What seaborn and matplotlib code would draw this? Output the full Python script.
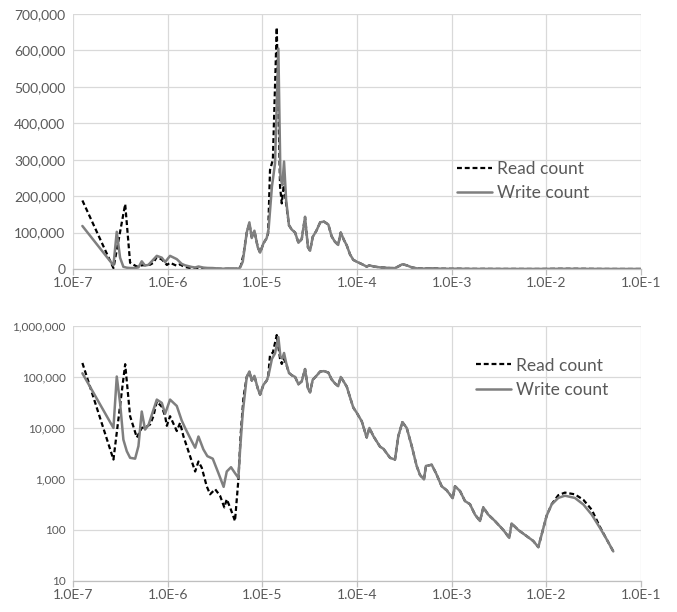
import numpy as np
import pandas as pd
import matplotlib
matplotlib.use('Agg')
import matplotlib.pyplot as plt
import matplotlib.ticker as mticker
import seaborn as sns

# latency as log10(seconds), counts as plotted
read_head_logx = [-6.902, -6.574, -6.45, -6.398, -6.327, -6.275, -6.222, -6.187, -6.152, -6.116,
                  -6.063, -6.028, -6.01, -5.976, -5.905, -5.87, -5.835, -5.782, -5.711, -5.676,
                  -5.641, -5.589, -5.553, -5.5, -5.448, -5.403, -5.377, -5.342, -5.29, -5.254,
                  -5.229, -5.2, -5.166, -5.138, -5.113, -5.085, -5.05, -5.025, -4.99, -4.955,
                  -4.94, -4.92, -4.89, -4.849, -4.814, -4.796, -4.775, -4.75]
read_head_counts = [188000, 2400, 178000, 17000, 6500, 10000, 10700, 11700, 17000, 33000,
                    26000, 17000, 11000, 17000, 8700, 12600, 6900, 3500, 1400, 2200,
                    1660, 720, 500, 630, 470, 277, 400, 277, 150, 980,
                    8000, 40000, 100000, 125000, 85000, 105000, 60000, 45000, 70000, 85000,
                    98000, 272000, 300000, 663000, 226000, 180000, 230000, 180000]

write_head_logx = [-6.902, -6.574, -6.539, -6.504, -6.469, -6.433, -6.398, -6.345, -6.31, -6.275,
                   -6.24, -6.204, -6.116, -6.063, -6.028, -5.976, -5.905, -5.853, -5.817, -5.747,
                   -5.711, -5.676, -5.624, -5.582, -5.525, -5.465, -5.41, -5.377, -5.332, -5.29,
                   -5.254, -5.236, -5.208, -5.166, -5.138, -5.113, -5.085, -5.05, -5.025, -4.99,
                   -4.955, -4.935, -4.9, -4.867, -4.832, -4.81, -4.79, -4.772, -4.75]
write_head_counts = [118000, 10000, 102000, 31000, 5900, 3500, 2600, 2500, 4400, 21000,
                     9300, 11400, 36000, 31000, 19000, 36000, 27000, 14000, 10000, 5500,
                     4100, 6800, 3800, 2800, 2500, 1300, 700, 1400, 1700, 1300,
                     1050, 3800, 20000, 100000, 128000, 85000, 105000, 60000, 45000, 70000,
                     85000, 110000, 226000, 290000, 605000, 250000, 230000, 295000, 190000]

# both series coincide here
tail_logx = [-4.72, -4.69, -4.655, -4.62, -4.585, -4.55, -4.52, -4.497, -4.469, -4.43,
             -4.39, -4.35, -4.304, -4.27, -4.235, -4.2, -4.173, -4.14, -4.11, -4.075,
             -4.04, -4.005, -3.951, -3.899, -3.87, -3.828, -3.758, -3.722, -3.652, -3.6,
             -3.565, -3.522, -3.476, -3.423, -3.371, -3.336, -3.294, -3.273, -3.212, -3.167,
             -3.107, -3.054, -2.99, -2.966, -2.913, -2.861, -2.808, -2.755, -2.702, -2.667,
             -2.615, -2.544, -2.456, -2.393, -2.368, -2.298, -2.21, -2.14, -2.086]
tail_counts = [120000, 108000, 100000, 72000, 82000, 143000, 60000, 50000, 88000, 105000,
               128000, 130000, 122000, 90000, 75000, 66000, 100000, 80000, 65000, 40000,
               25000, 20000, 13500, 6500, 10000, 6900, 4300, 3900, 2600, 2400,
               6900, 13000, 10000, 4400, 1800, 1200, 980, 1800, 1900, 1300,
               720, 600, 420, 720, 580, 370, 320, 200, 150, 277,
               200, 150, 100, 70, 134, 100, 76, 61, 46]

hump_logx = [-1.998, -1.945, -1.875, -1.805, -1.7, -1.61, -1.522, -1.435, -1.365, -1.294,
             -1.2, -1.1, -1.0]
read_hump_counts = [190, 320, 480, 540, 500, 390, 250, 115, 66, 38, 0, 0, 0]
write_hump_counts = [190, 316, 425, 470, 425, 316, 200, 110, 66, 38, 0, 0, 0]

x_ticks = [1e-7, 1e-6, 1e-5, 1e-4, 1e-3, 1e-2, 1e-1]
x_tick_labels = ['1.0E-7', '1.0E-6', '1.0E-5', '1.0E-4', '1.0E-3', '1.0E-2', '1.0E-1']
lin_y_ticks = [0, 100000, 200000, 300000, 400000, 500000, 600000, 700000]
log_y_ticks = [10, 100, 1000, 10000, 100000, 1000000]

read = pd.DataFrame({
    'latency': 10 ** np.array(read_head_logx + tail_logx + hump_logx),
    'count': read_head_counts + tail_counts + read_hump_counts,
})
write = pd.DataFrame({
    'latency': 10 ** np.array(write_head_logx + tail_logx + hump_logx),
    'count': write_head_counts + tail_counts + write_hump_counts,
})

sns.set_theme(style='white')
plt.rcParams['font.family'] = ['Lato', 'DejaVu Sans']

text_col = '#595959'
grid_col = '#d9d9d9'

fig = plt.figure(figsize=(6.77, 6.12), dpi=100)
ax_top = fig.add_axes([0.108, 0.5605, 0.839, 0.4167])
ax_bot = fig.add_axes([0.108, 0.0507, 0.839, 0.4167])

for ax in (ax_top, ax_bot):
    ax.set_xscale('log')
    r, w = read, write
    if ax is ax_bot:
        ax.set_yscale('log')
        # zero bins cannot be shown on the log axis
        r, w = read[read['count'] > 0], write[write['count'] > 0]
    sns.lineplot(data=r, x='latency', y='count', ax=ax, color='black',
                 linestyle=(0, (2.2, 1.3)), linewidth=1.6, label='Read count')
    sns.lineplot(data=w, x='latency', y='count', ax=ax, color='#7f7f7f',
                 linewidth=1.8, label='Write count')
    ax.set_xlim(1e-7, 1e-1)
    ax.set_xticks(x_ticks)
    ax.set_xticklabels(x_tick_labels)
    ax.xaxis.set_minor_locator(mticker.NullLocator())
    ax.grid(True, color=grid_col, linewidth=0.9)
    ax.set_axisbelow(True)
    for s in ('top', 'right', 'left'):
        ax.spines[s].set_visible(False)
    ax.spines['bottom'].set_color('#bfbfbf')
    ax.spines['bottom'].set_linewidth(0.9)
    ax.tick_params(axis='x', bottom=True, length=4, width=0.9, color='#bfbfbf',
                   pad=2, labelsize=10, labelcolor=text_col)
    ax.tick_params(axis='y', left=False, length=0, pad=5.5, labelcolor=text_col)
    ax.set_xlabel('')
    ax.set_ylabel('')

ax_top.set_ylim(0, 700000)
ax_top.set_yticks(lin_y_ticks)
ax_top.yaxis.set_major_formatter(mticker.FuncFormatter(lambda v, p: f'{v:,.0f}'))
ax_top.tick_params(axis='y', labelsize=10)

ax_bot.set_ylim(10, 1000000)
ax_bot.set_yticks(log_y_ticks)
ax_bot.yaxis.set_minor_locator(mticker.NullLocator())
ax_bot.yaxis.set_major_formatter(mticker.FuncFormatter(lambda v, p: f'{v:,.0f}'))
ax_bot.tick_params(axis='y', labelsize=8.5)

for ax, anchor in ((ax_top, (0.676, 0.423)), (ax_bot, (0.71, 0.876))):
    leg = ax.legend(loc='upper left', bbox_to_anchor=anchor, frameon=False,
                    fontsize=12.5, handlelength=2.0, handletextpad=0.3,
                    labelspacing=0.48, borderpad=0, borderaxespad=0)
    for t in leg.get_texts():
        t.set_color(text_col)

fig.savefig('out.png', dpi=100)
